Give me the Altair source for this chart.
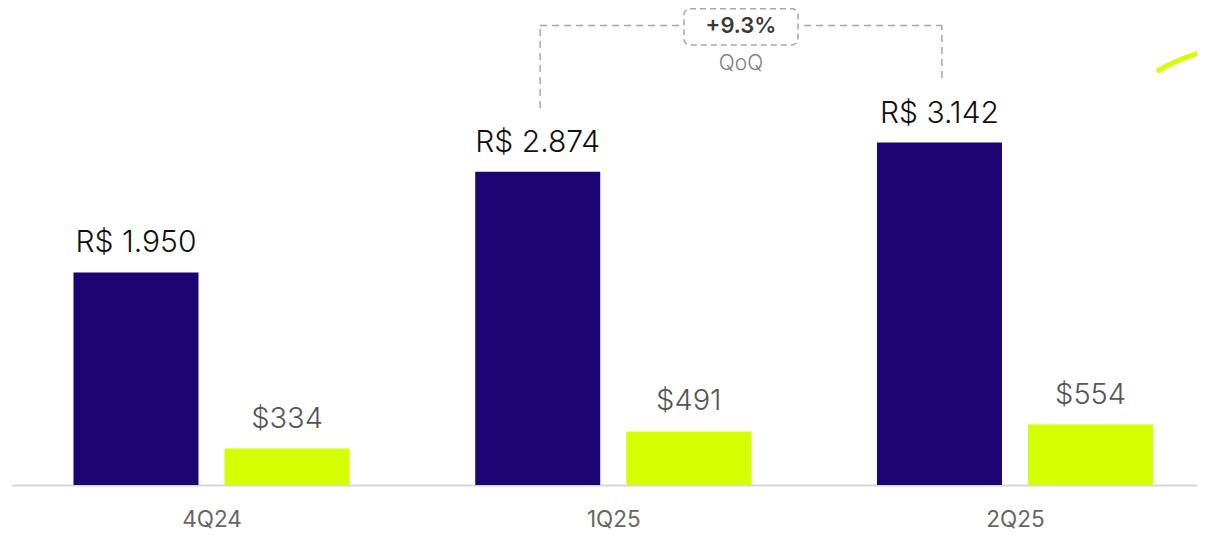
import json
import altair as alt
import pandas as pd

# ---- data ----
quarters = ["4Q24", "1Q25", "2Q25"]
brl_values = [1950, 2874, 3142]
usd_values = [334, 491, 554]
brl_labels = ["R$ 1.950", "R$ 2.874", "R$ 3.142"]
usd_labels = ["$334", "$491", "$554"]
series = ["BRL", "USD"]
qoq_from = [1]
qoq_to = [2]
qoq_labels = ["+9.3%"]
qoq_captions = ["QoQ"]

NAVY = "#1c0572"
LIME = "#d4ff00"
FONT = "Inter"
OFFSET = 0.188          # half distance between the two bars of a group (step units)
BRACKET_OFFSET = 0.182  # bracket legs sit near the navy bar centres

rows = []
for i, q in enumerate(quarters):
    rows.append({"quarter": q, "idx": i, "series": "BRL", "value": brl_values[i], "label": brl_labels[i]})
    rows.append({"quarter": q, "idx": i, "series": "USD", "value": usd_values[i], "label": usd_labels[i]})
df = pd.DataFrame(rows)

ann = pd.DataFrame({"from": qoq_from, "to": qoq_to, "label": qoq_labels, "caption": qoq_captions})

XDOM = [-0.4966, 2.4530]
YDOM = [0, 4376]
xscale = alt.Scale(domain=XDOM, nice=False, zero=False, padding=0)
yscale = alt.Scale(domain=YDOM, nice=False, zero=False, padding=0)

label_expr = json.dumps(quarters) + "[datum.value]"
xaxis = alt.Axis(values=[0, 1, 2], labelExpr=label_expr, title=None, grid=False,
                 ticks=False, domainColor="#d6d6d6", domainWidth=2,
                 labelFont=FONT, labelFontSize=22.5, labelColor="#666666",
                 labelPadding=23)

base = alt.Chart(df).transform_calculate(
    pos=f"datum.idx + (datum.series == 'BRL' ? {-OFFSET} : {OFFSET})"
)

bars = base.mark_bar(width=125).encode(
    x=alt.X("pos:Q", scale=xscale, axis=xaxis),
    y=alt.Y("value:Q", scale=yscale, axis=None),
    y2=alt.datum(0),
    color=alt.Color("series:N", scale=alt.Scale(domain=series, range=[NAVY, LIME]), legend=None),
)

brl_text = base.transform_filter("datum.series == 'BRL'").mark_text(
    font=FONT, fontSize=30, fontWeight=300, color="#111111", baseline="alphabetic", dy=-20
).encode(
    x=alt.X("pos:Q", scale=xscale, axis=xaxis),
    y=alt.Y("value:Q", scale=yscale, axis=None),
    text="label:N",
)

usd_text = base.transform_filter("datum.series == 'USD'").mark_text(
    font=FONT, fontSize=29, fontWeight=300, color="#555555", baseline="alphabetic", dy=-21
).encode(
    x=alt.X("pos:Q", scale=xscale, axis=xaxis),
    y=alt.Y("value:Q", scale=yscale, axis=None),
    text="label:N",
)

abase = alt.Chart(ann).transform_calculate(
    pos=f"datum['from'] - {BRACKET_OFFSET}",
    pos2=f"datum['to'] - {BRACKET_OFFSET}",
).transform_calculate(mid="(datum.pos + datum.pos2) / 2")

DASH = [7, 5]
LINE = "#a8a8a8"
Y_TOP = 4216

left_leg = abase.mark_rule(color=LINE, strokeWidth=1.5, strokeDash=DASH).encode(
    x=alt.X("pos:Q", scale=xscale, axis=xaxis),
    y=alt.datum(3459), y2=alt.datum(Y_TOP),
)
right_leg = abase.mark_rule(color=LINE, strokeWidth=1.5, strokeDash=DASH).encode(
    x=alt.X("pos2:Q", scale=xscale, axis=xaxis),
    y=alt.datum(3734), y2=alt.datum(Y_TOP),
)
top_line = abase.mark_rule(color=LINE, strokeWidth=1.5, strokeDash=DASH).encode(
    x=alt.X("pos:Q", scale=xscale, axis=xaxis),
    x2="pos2:Q",
    y=alt.datum(Y_TOP),
)
box = abase.mark_bar(width=114, fill="white", stroke=LINE, strokeWidth=1.5,
                     strokeDash=[6, 4], cornerRadius=6).encode(
    x=alt.X("mid:Q", scale=xscale, axis=xaxis),
    y=alt.datum(4037), y2=alt.datum(4368),
)
pct_text = abase.mark_text(font=FONT, fontSize=22, fontWeight=600, color="#3a3a3a",
                           baseline="middle").encode(
    x=alt.X("mid:Q", scale=xscale, axis=xaxis),
    y=alt.datum(4208),
    text="label:N",
)
cap_text = abase.mark_text(font=FONT, fontSize=21, fontWeight=300, color="#808080",
                           baseline="middle").encode(
    x=alt.X("mid:Q", scale=xscale, axis=xaxis),
    y=alt.datum(3860),
    text="caption:N",
)

swoosh = alt.Chart(pd.DataFrame({"k": [0]})).mark_arc(
    color=LIME, radius=203, radius2=198, theta=5.76, theta2=6.03
).encode(x=alt.value(1245), y=alt.value(237))

chart = alt.layer(
    bars, brl_text, usd_text, left_leg, right_leg, top_line, box, pct_text, cap_text, swoosh
).properties(
    width=1185, height=477,
    autosize=alt.AutoSizeParams(type="none"),
    padding={"left": 4, "top": 0, "right": 0, "bottom": 45},
    background="white",
).configure_view(stroke=None)

chart.save("out.html", embed_options={"renderer": "svg", "actions": False})
